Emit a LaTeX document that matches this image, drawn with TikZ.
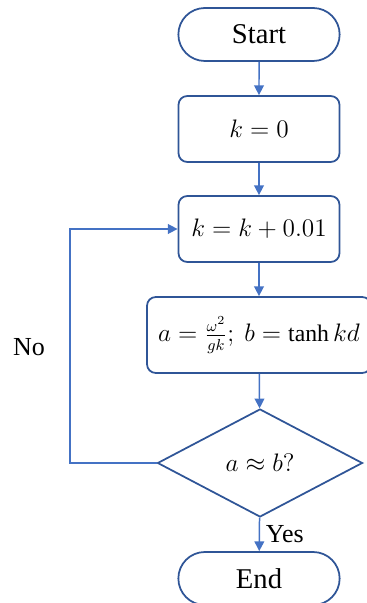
\documentclass[tikz,border=0pt]{standalone}
\usepackage{fontspec}
\setmainfont{Liberation Serif}
\usetikzlibrary{shapes.misc,shapes.geometric,arrows.meta}
\definecolor{ccbord}{RGB}{47,85,151}
\definecolor{ccfleche}{RGB}{68,114,196}

\begin{document}
\begin{tikzpicture}

  % Style des boites et des fleches
  \tikzstyle{terminal} = [rounded rectangle, draw=ccbord, line width=1pt, minimum width=3.46cm, minimum height=1.06cm, font=\fontsize{16.3}{18}\selectfont]
  \tikzstyle{boite} = [rectangle, draw=ccbord, line width=1pt, rounded corners=5pt, minimum width=3.22cm, minimum height=1.32cm, font=\fontsize{13.5}{16}\selectfont]
  \tikzstyle{test} = [diamond, draw=ccbord, line width=1pt, inner sep=0pt, minimum width=4.1cm, minimum height=2.16cm, font=\fontsize{13.5}{16}\selectfont]
  \tikzstyle{fleche} = [-{Triangle[length=5.5pt,width=5.5pt]}, ccfleche, line width=0.85pt]
  \tikzstyle{etiquette} = [font=\fontsize{14.8}{17}\selectfont]

  \useasboundingbox (0,0) rectangle (7.32,12.06);

  % Liste des boxes
  \node[terminal] (debut) at (5.18,11.37) {Start};
  \node[boite] (init) at (5.18,9.48) {$k = 0$};
  \node[boite] (incr) at (5.18,7.48) {$k = k + 0.01$};
  \node[boite, minimum width=4.48cm, minimum height=1.52cm] (calcul) at (5.18,5.36) {$a = \frac{\omega^2}{gk};\ b = \tanh kd$};
  \node[test] (test) at (5.2,2.8) {$a \approx b?$};
  \node[terminal] (fin) at (5.18,0.49) {End};

  % Fleches
  \draw[fleche] (debut) -- (init);
  \draw[fleche] (init) -- (incr);
  \draw[fleche] (incr) -- (calcul);
  \draw[fleche] (calcul) -- (test);
  \draw[fleche] (test) -- node[etiquette, right, black] {Yes} (fin);

  % Retour No
  \coordinate (retour) at (1.4,5.0);
  \draw[fleche] (test.west) -| (retour) |- (incr.west);
  \node[etiquette] (non) at (0.58,5.12) {No};

\end{tikzpicture}
\end{document}
